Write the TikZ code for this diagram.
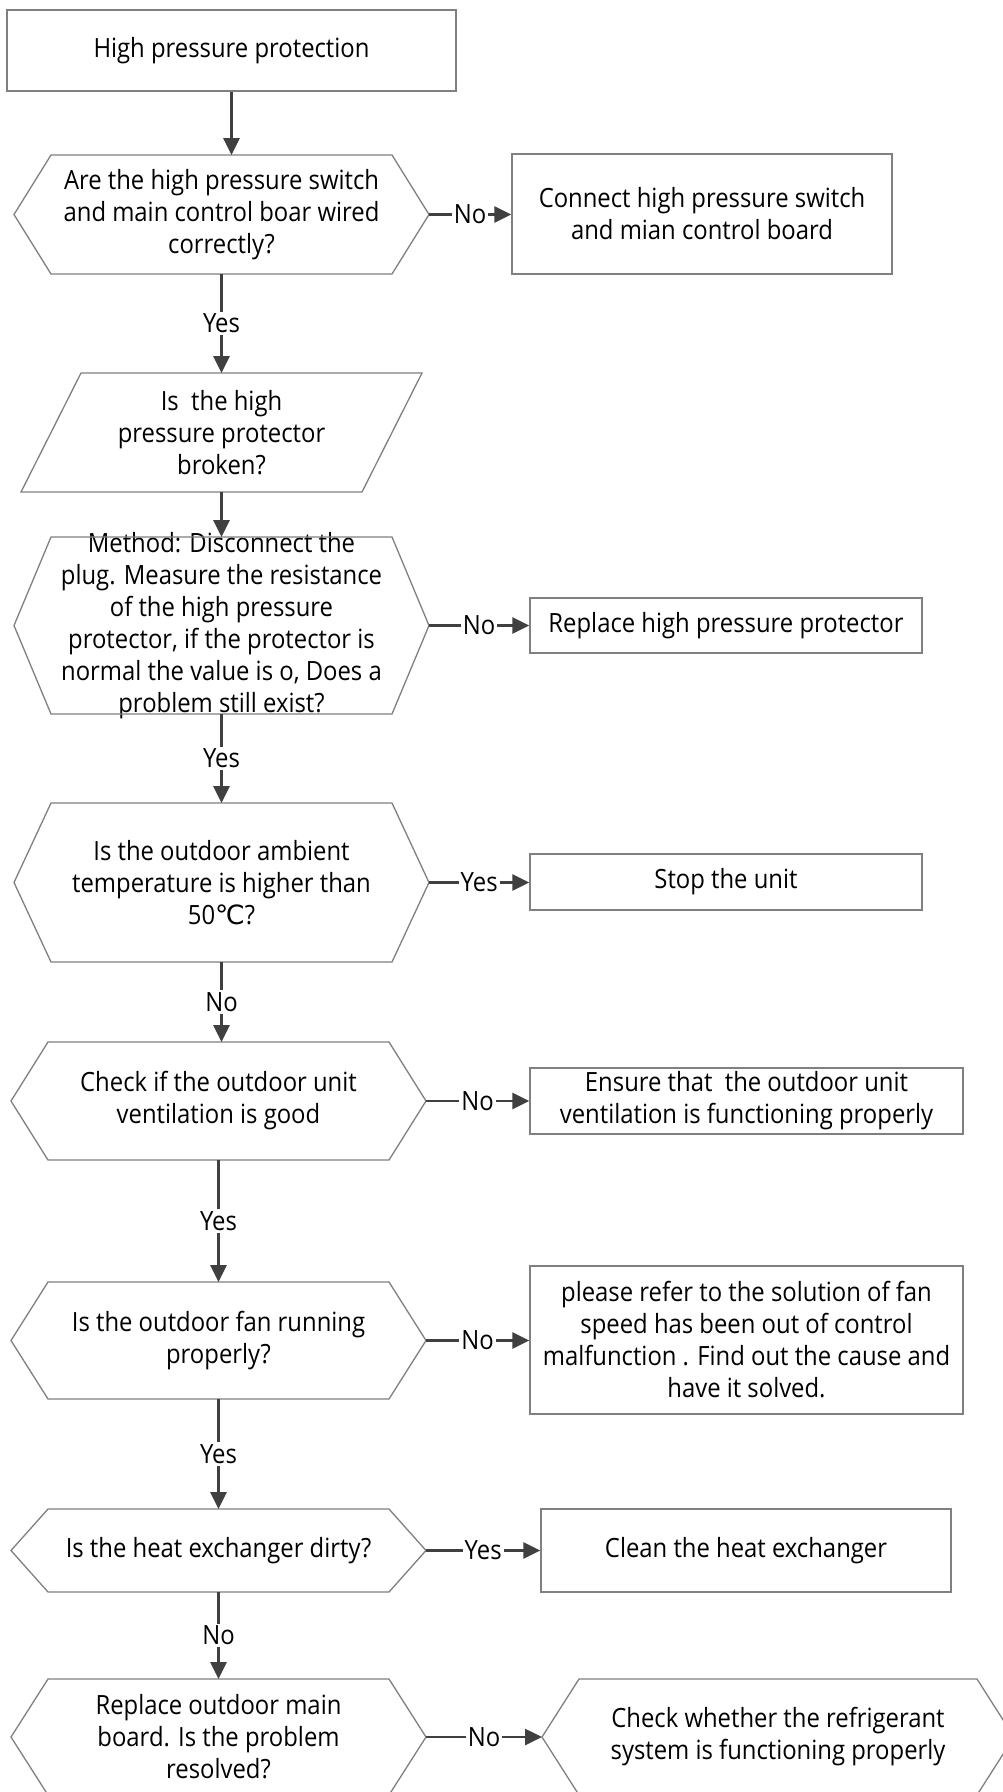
\documentclass[tikz,border=0pt]{standalone}
\usepackage{fontspec}
\setmainfont{Open Sans}[FakeStretch=0.9]
\newfontfamily\degfont{DejaVu Sans}
\usetikzlibrary{arrows.meta}

\definecolor{linegray}{HTML}{404040}
\definecolor{framegray}{HTML}{808080}

\tikzset{
  box/.style={draw=framegray, line width=1.3pt, align=center, inner sep=0pt},
  hexa/.style={minimum width=341pt, inner sep=0pt, outer sep=0pt},
  outline/.style={draw=framegray, line width=1.3pt},
  conn/.style={->, draw=linegray, line width=2.7pt},
  lbl/.style={fill=white, inner sep=2pt},
  every label/.style={align=center},
}

\begin{document}
\begin{tikzpicture}[
        x=1pt, y=-1pt,
        >={Triangle[length=17pt,width=16pt]},
        font=\fontsize{26.5}{32}\selectfont,
        ]
        \path[use as bounding box, fill=white] (0,0) rectangle (1003,1792);
        \clip (0,0) rectangle (1003,1792);

        % Start
        \node[box, minimum width=449pt, minimum height=81pt] (start) at (231.5,50.5) {High pressure protection};

        % Questions (hexagons, outline drawn below)
        \node[hexa, minimum height=119pt, label={center:Are the high pressure switch\\and main control boar wired\\correctly?}] (q1) at (221.5,214.5) {};
        \node[hexa, minimum height=119pt, align=center] (brk) at (221.5,432.5) {Is\ \ the high\\pressure protector\\broken?};
        \node[hexa, minimum height=177pt, label={center:Method: Disconnect the\\plug. Measure the resistance\\of the high pressure\\protector, if the protector is\\normal the value is o, Does a\\problem still exist?}] (q2) at (221.5,625.5) {};
        \node[hexa, minimum height=159pt, label={center:Is the outdoor ambient\\temperature is higher than\\50{\degfont ℃}?}] (q3) at (221.5,882.5) {};
        \node[hexa, minimum height=118pt, label={center:Check if the outdoor unit\\ventilation is good}] (q4) at (218.5,1101) {};
        \node[hexa, minimum height=117pt, label={center:Is the outdoor fan running\\properly?}] (q5) at (218.5,1340.5) {};
        \node[hexa, minimum height=83pt, label={center:Is the heat exchanger dirty?}] (q6) at (218.5,1550.5) {};
        \node[hexa, minimum height=116pt, label={center:Replace outdoor main\\board. Is the problem\\resolved?}] (q7) at (218.5,1737) {};
        \node[hexa, minimum width=398pt, minimum height=116pt, label={center:Check whether the refrigerant\\system is functioning properly}] (chk) at (778,1737) {};

        % Actions
        \node[box, minimum width=380pt, minimum height=120pt] (fix1) at (702,214) {Connect high pressure switch\\and mian control board};
        \node[box, minimum width=392pt, minimum height=55pt] (fix2) at (726,625.5) {Replace high pressure protector};
        \node[box, minimum width=392pt, minimum height=56pt] (stop) at (726,882) {Stop the unit};
        \node[box, minimum width=433pt, minimum height=66pt] (fix3) at (746.5,1101) {Ensure that\ \ the outdoor unit\\ventilation is functioning properly};
        \node[box, minimum width=433pt, minimum height=148pt] (fix4) at (746.5,1340) {please refer to the solution of fan\\speed has been out of control\\malfunction . Find out the cause and\\have it solved.};
        \node[box, minimum width=410pt, minimum height=83pt] (clean) at (746,1550.5) {Clean the heat exchanger};

        % Outlines
        \foreach \n in {q1,q2,q3,q4,q5,q6,q7,chk}
            \draw[outline] (\n.north west) -- (\n.north east) -- ([xshift=37pt]\n.east) coordinate (\n-tip)
                -- (\n.south east) -- (\n.south west) -- ([xshift=-37pt]\n.west) coordinate (\n-back) -- cycle;
        \draw[outline] ([xshift=30pt]brk.north west) -- ([xshift=30pt]brk.north east)
            -- ([xshift=-30pt]brk.south east) -- ([xshift=-30pt]brk.south west) -- cycle;

        % Connectors
        \draw[conn] (start.south) -- (start.south |- q1.north);
        \draw[conn] (q1-tip) -- node[lbl] {No} (q1-tip -| fix1.west);
        \draw[conn] (q1.south) -- node[lbl] {Yes} (brk.north);
        \draw[conn] (brk.south) -- (q2.north);
        \draw[conn] (q2-tip) -- node[lbl] {No} (q2-tip -| fix2.west);
        \draw[conn] (q2.south) -- node[lbl] {Yes} (q3.north);
        \draw[conn] (q3-tip) -- node[lbl] {Yes} (q3-tip -| stop.west);
        \draw[conn] (q3.south) -- node[lbl] {No} (q3.south |- q4.north);
        \draw[conn] (q4-tip) -- node[lbl] {No} (q4-tip -| fix3.west);
        \draw[conn] (q4.south) -- node[lbl] {Yes} (q5.north);
        \draw[conn] (q5-tip) -- node[lbl] {No} (q5-tip -| fix4.west);
        \draw[conn] (q5.south) -- node[lbl] {Yes} (q6.north);
        \draw[conn] (q6-tip) -- node[lbl] {Yes} (q6-tip -| clean.west);
        \draw[conn] (q6.south) -- node[lbl] {No} (q7.north);
        \draw[conn] (q7-tip) -- node[lbl] {No} (chk-back);

    \end{tikzpicture}
\end{document}
